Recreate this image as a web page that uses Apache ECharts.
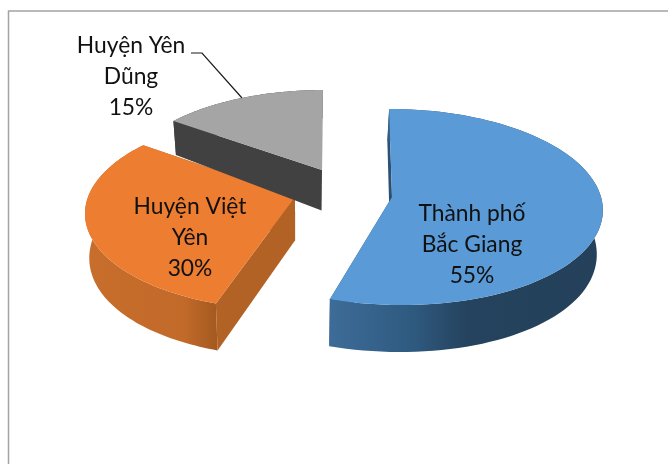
<!DOCTYPE html>
<html>
<head>
<meta charset="utf-8">
<style>html,body{margin:0;padding:0;background:#fff}#chart{width:668px;height:464px}</style>
<script src="https://cdn.jsdelivr.net/npm/echarts@6/dist/echarts.min.js"></script>
</head>
<body>
<div id="chart"></div>
<script>
// District shares, in clockwise order from twelve o'clock
const categories = ['Thành phố Bắc Giang', 'Huyện Việt Yên', 'Huyện Yên Dũng'];
const shares = [55, 30, 15];
const labelLines = [['Thành phố', 'Bắc Giang'], ['Huyện Việt', 'Yên'], ['Huyện Yên', 'Dũng']];

// Placement of each exploded slice: apex, projected radii, perspective strength,
// and the slice's horizontal offset from the vanishing line
const placements = [
  { cx: 392, cy: 197, rx: 209, ry: 97, k: 0.102, eMid: 60, eTilt: -29, labelX: 472, labelY: 245 },
  { cx: 295, cy: 197, rx: 207, ry: 96, k: 0.15, eMid: -27, eTilt: 0, labelX: 190, labelY: 238 },
  { cx: 322, cy: 170, rx: 196, ry: 88.5, k: 0.107, eMid: -10, eTilt: 0, labelX: 131, labelY: 77 }
];
const sliceColors = [
  { top: '#5a9ad6', edge: '#2b5074', wall: [[0, '#3d6c98'], [0.3, '#2f5a80'], [0.5, '#25435e'], [1, '#24405a']] },
  { top: '#ed7d31', edge: '#b26225', wall: [[0, '#c86e2c'], [0.75, '#c26a2a'], [1, '#a55a20']] },
  { top: '#a5a5a5', edge: '#414141', wall: [[0, '#414141'], [1, '#414141']] }
];
const leaderLine = [[191, 53], [202, 53], [242, 98]];

// Wall height shrinks toward the back of the pie
function wallDepth(y) {
  const t = Math.max(0, (305 - y) / 184);
  return 47 - 13 * Math.pow(t, 2.3);
}
function project(p, theta) {
  const s = Math.sin(theta), c = Math.cos(theta), w = 1 + p.k * c;
  const e = p.eMid + p.eTilt * c;
  return [p.cx + p.rx * s / w + e * (1 / w - 1), p.cy - p.ry * c / w];
}
function dropped(pt) {
  return [pt[0] + 0.02 * (300 - pt[0]), pt[1] + wallDepth(pt[1])];
}

const total = shares.reduce((a, b) => a + b, 0);

function renderSlice(params, api) {
  const i = params.dataIndex;
  const value = api.value(0);
  const before = shares.slice(0, i).reduce((a, b) => a + b, 0);
  const a0 = before / total * Math.PI * 2;
  const a1 = (before + value) / total * Math.PI * 2;
  const p = placements[i], col = sliceColors[i];

  const arc = [];
  const steps = 90;
  for (let n = 0; n <= steps; n++) arc.push(project(p, a0 + (a1 - a0) * n / steps));
  const apex = [p.cx, p.cy];
  const first = arc[0], last = arc[arc.length - 1];

  const xs = arc.map(q => q[0]);
  const wallFill = new echarts.graphic.LinearGradient(
    Math.min.apply(null, xs), 0, Math.max.apply(null, xs), 0,
    col.wall.map(s => ({ offset: s[0], color: s[1] })), true);

  const poly = (points, fill) => ({ type: 'polygon', shape: { points }, style: { fill } });
  const children = [
    poly([apex, first, dropped(first), dropped(apex)], col.edge),
    poly([apex, last, dropped(last), dropped(apex)], col.edge),
    poly(arc.concat(arc.map(dropped).reverse()), wallFill),
    poly([apex].concat(arc), col.top)
  ];
  const lines = labelLines[i].concat([value + '%']);
  lines.forEach((line, n) => {
    children.push({
      type: 'text',
      style: {
        x: p.labelX, y: p.labelY + (n - 1) * 31,
        text: line, fill: '#111111',
        font: '400 22.8px Lato, "Noto Sans", sans-serif',
        align: 'center', verticalAlign: 'middle'
      }
    });
  });
  return { type: 'group', children };
}

const chart = echarts.init(document.getElementById('chart'), null, { renderer: 'canvas' });
chart.setOption({
  animation: false,
  backgroundColor: '#ffffff',
  graphic: [
    { type: 'rect', shape: { x: 8.5, y: 11, width: 720, height: 520 }, style: { fill: 'none', stroke: '#a3a3a3', lineWidth: 1.5 }, z: 0 },
    { type: 'polyline', shape: { points: leaderLine }, style: { fill: 'none', stroke: '#1a1a1a', lineWidth: 1.2 }, z: 10 }
  ],
  series: [{
    type: 'custom',
    coordinateSystem: 'none',
    name: 'Tỷ trọng',
    data: shares.map((v, i) => ({ name: categories[i], value: [v] })),
    renderItem: renderSlice,
    z: 5
  }]
});
</script>
</body>
</html>
